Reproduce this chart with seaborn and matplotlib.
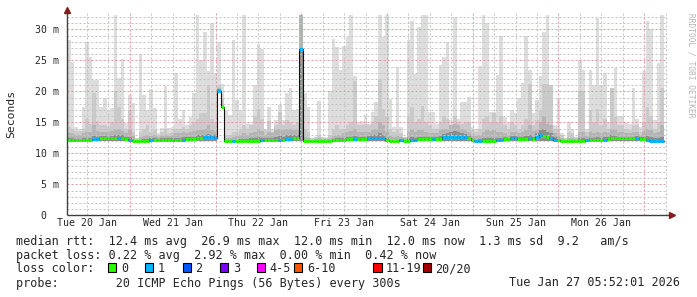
import numpy as np
import pandas as pd
import matplotlib
matplotlib.use("Agg")
import matplotlib.pyplot as plt
import matplotlib.dates as mdates
from matplotlib.patches import Rectangle
import seaborn as sns

# ---------------- data (hourly columns, first column starts 2026-01-20 06:27) -------------
first_column = "2026-01-20 06:27"
window_start = "2026-01-20 06:23"

rtt_max = [
    28.3, 24.8, 14.3, 14.0, 17.5, 28.0, 25.6, 21.9, 21.9, 17.4,
    18.9, 17.0, 17.3, 32.3, 22.1, 25.2, 14.9, 19.4, 18.1, 12.4,
    26.1, 19.4, 17.0, 20.4, 17.3, 13.3, 14.1, 20.9, 14.1, 14.3,
    23.0, 15.5, 17.0, 14.6, 15.8, 19.8, 32.3, 25.1, 29.6, 23.2,
    31.1, 23.0, 28.0, 21.2, 17.0, 16.2, 28.2, 18.6, 17.0, 32.3,
    14.8, 14.8, 21.0, 27.7, 26.9, 14.0, 17.5, 14.0, 15.3, 17.8,
    15.3, 19.7, 20.6, 17.0, 17.1, 32.3, 19.7, 17.5, 12.4, 12.7,
    18.5, 12.7, 12.6, 20.0, 28.4, 27.2, 23.4, 27.3, 28.8, 32.3,
    22.4, 15.0, 15.2, 16.2, 14.8, 16.7, 18.3, 32.3, 28.8, 32.3,
    18.7, 14.3, 24.0, 14.3, 12.7, 28.3, 31.4, 22.8, 30.3, 32.3,
    32.3, 16.7, 16.7, 14.8, 24.3, 25.6, 28.0, 15.4, 32.0, 15.6,
    18.2, 18.2, 19.1, 14.3, 14.0, 24.1, 32.3, 31.1, 16.6, 16.7,
    22.6, 28.9, 15.8, 14.9, 17.0, 16.5, 19.0, 21.4, 28.9, 23.4,
    16.5, 18.6, 22.5, 29.6, 32.3, 21.1, 14.6, 18.8, 13.2, 12.4,
    15.0, 14.0, 12.7, 25.0, 23.5, 14.0, 23.5, 21.0, 31.9, 21.0,
    22.9, 15.1, 19.4, 23.8, 16.0, 16.0, 15.1, 14.7, 20.5, 15.6,
    14.3, 23.2, 31.4, 30.0, 15.3, 24.6, 32.3,
]
rtt_p90 = [
    14.2, 14.0, 13.6, 13.6, 14.0, 15.5, 14.8, 19.8, 15.2, 14.5,
    14.5, 14.2, 15.0, 20.0, 17.5, 15.5, 14.0, 17.0, 13.5, 12.4,
    13.5, 14.0, 14.5, 13.5, 13.8, 13.0, 13.5, 14.0, 13.2, 13.5,
    14.0, 14.0, 14.3, 14.0, 14.5, 15.0, 15.5, 16.5, 16.5, 21.0,
    15.5, 15.0, 21.0, 19.0, 13.0, 13.0, 13.5, 13.5, 13.8, 14.5,
    14.0, 14.5, 16.0, 17.1, 15.5, 13.8, 15.2, 13.5, 14.5, 16.7,
    14.5, 15.3, 15.0, 14.5, 15.0, 32.3, 14.0, 13.5, 12.4, 12.6,
    13.0, 12.6, 12.5, 13.0, 14.0, 14.5, 14.0, 14.0, 14.5, 15.0,
    21.7, 14.5, 14.5, 14.8, 14.5, 15.0, 16.0, 21.8, 17.1, 16.0,
    14.0, 13.5, 14.0, 13.2, 12.6, 16.0, 17.5, 15.0, 15.5, 17.6,
    15.0, 14.5, 14.0, 14.0, 15.0, 16.0, 15.5, 14.5, 16.0, 15.0,
    14.8, 15.0, 15.0, 13.8, 13.5, 14.0, 15.5, 16.0, 15.0, 16.5,
    15.0, 16.0, 14.5, 14.0, 15.0, 14.5, 14.0, 14.5, 15.5, 21.2,
    14.5, 15.4, 17.0, 21.2, 21.2, 21.1, 14.0, 14.0, 13.0, 12.4,
    13.5, 13.2, 12.6, 20.0, 20.0, 13.5, 17.0, 15.0, 17.2, 14.5,
    15.5, 14.0, 20.6, 15.8, 14.5, 14.5, 14.0, 13.8, 14.5, 14.5,
    13.5, 15.0, 17.5, 16.0, 14.0, 15.1, 20.5,
]
rtt_p75 = [
    13.3, 13.2, 13.0, 13.0, 13.3, 13.5, 13.5, 14.5, 13.6, 13.5,
    13.5, 13.4, 13.6, 14.0, 14.0, 13.6, 13.2, 13.8, 12.8, 12.2,
    12.6, 12.8, 13.0, 12.8, 13.0, 12.6, 12.8, 13.0, 12.8, 13.0,
    13.2, 13.2, 13.5, 13.3, 13.5, 13.6, 13.8, 13.8, 14.0, 14.5,
    13.8, 13.5, 20.5, 18.0, 12.4, 12.4, 12.6, 12.8, 13.0, 13.2,
    13.0, 13.2, 13.5, 14.0, 13.6, 13.0, 13.5, 13.3, 13.8, 14.0,
    13.8, 14.0, 14.0, 13.8, 13.8, 32.3, 12.6, 12.4, 12.2, 12.3,
    12.4, 12.3, 12.3, 12.5, 12.8, 13.0, 13.0, 13.2, 13.4, 13.6,
    14.0, 13.5, 13.5, 13.5, 13.5, 13.8, 14.0, 15.0, 14.5, 13.5,
    12.8, 12.6, 12.8, 12.6, 12.4, 13.5, 14.0, 13.5, 13.8, 13.8,
    13.5, 13.2, 13.2, 13.3, 13.8, 14.0, 14.0, 14.5, 14.8, 14.5,
    14.0, 13.8, 13.5, 13.0, 12.8, 13.0, 13.5, 13.8, 13.6, 13.8,
    13.5, 13.5, 13.2, 13.0, 13.5, 13.5, 13.2, 13.4, 13.8, 14.5,
    13.6, 14.0, 15.0, 16.0, 14.8, 14.5, 13.2, 12.8, 12.4, 12.2,
    12.5, 12.5, 12.3, 13.5, 13.5, 12.8, 13.5, 13.2, 13.5, 13.2,
    13.5, 13.2, 14.0, 13.8, 13.4, 13.4, 13.2, 13.2, 13.4, 13.4,
    13.0, 13.5, 14.0, 13.8, 13.2, 13.5, 14.5,
]
rtt_p60 = [
    12.4, 12.4, 12.3, 12.3, 12.4, 12.5, 12.5, 12.8, 12.7, 12.8,
    12.8, 12.7, 12.8, 12.9, 13.0, 12.9, 12.6, 12.6, 12.2, 12.1,
    12.2, 12.3, 12.3, 12.4, 12.4, 12.3, 12.4, 12.4, 12.4, 12.5,
    12.5, 12.5, 12.6, 12.6, 12.7, 12.7, 12.9, 12.9, 13.0, 13.1,
    13.0, 12.9, 20.3, 17.7, 12.1, 12.1, 12.2, 12.2, 12.3, 12.3,
    12.3, 12.4, 12.5, 12.6, 12.5, 12.4, 12.5, 12.5, 12.6, 12.8,
    12.7, 12.9, 12.9, 13.0, 13.0, 26.9, 12.1, 12.1, 12.1, 12.1,
    12.1, 12.1, 12.1, 12.2, 12.3, 12.4, 12.4, 12.5, 12.6, 12.7,
    12.8, 12.6, 12.6, 12.6, 12.8, 12.9, 13.0, 13.2, 13.0, 12.4,
    12.2, 12.2, 12.2, 12.3, 12.1, 12.4, 12.6, 12.5, 12.7, 12.7,
    12.6, 12.6, 12.6, 12.6, 12.8, 13.1, 13.2, 13.5, 13.6, 13.4,
    13.2, 13.1, 12.8, 12.4, 12.2, 12.3, 12.4, 12.5, 12.4, 12.5,
    12.4, 12.4, 12.6, 12.5, 12.8, 12.8, 12.6, 12.7, 12.8, 13.0,
    12.7, 13.3, 13.8, 14.0, 13.5, 13.2, 12.6, 12.3, 12.1, 12.1,
    12.2, 12.2, 12.1, 12.5, 12.4, 12.3, 12.5, 12.5, 12.6, 12.5,
    12.6, 12.7, 12.9, 12.8, 12.7, 12.7, 12.6, 12.6, 12.7, 12.8,
    12.6, 12.7, 12.8, 12.7, 12.4, 12.5, 12.7,
]
rtt_min = [
    11.9, 11.9, 11.9, 11.9, 11.9, 11.9, 11.9, 12.0, 12.0, 12.0,
    12.0, 12.0, 12.0, 12.0, 12.0, 12.0, 12.0, 11.9, 11.9, 11.9,
    11.9, 11.9, 11.9, 11.9, 11.9, 11.9, 11.9, 11.9, 11.9, 11.9,
    11.9, 11.9, 11.9, 12.0, 12.0, 12.0, 12.0, 12.0, 12.0, 12.0,
    12.0, 12.0, 20.0, 17.4, 11.9, 11.9, 11.9, 11.9, 11.9, 11.9,
    11.9, 11.9, 11.9, 11.9, 11.9, 11.9, 11.9, 11.9, 11.9, 11.9,
    12.0, 12.0, 12.0, 12.0, 12.0, 12.0, 11.9, 11.9, 11.9, 11.9,
    11.9, 11.9, 11.9, 11.9, 11.9, 11.9, 11.9, 11.9, 12.0, 12.0,
    12.0, 12.0, 12.0, 12.0, 12.0, 12.0, 12.0, 12.0, 12.0, 11.9,
    11.9, 11.9, 11.9, 11.9, 11.9, 11.9, 11.9, 11.9, 12.0, 12.0,
    12.0, 12.0, 12.0, 12.0, 12.0, 12.0, 12.0, 12.0, 12.0, 12.0,
    12.0, 12.0, 12.0, 11.9, 11.9, 11.9, 11.9, 11.9, 11.9, 11.9,
    11.9, 11.9, 12.0, 12.0, 12.0, 12.0, 12.0, 12.0, 12.0, 12.0,
    12.0, 12.0, 12.0, 12.0, 12.0, 12.0, 12.0, 11.9, 11.9, 11.9,
    11.9, 11.9, 11.9, 11.9, 11.9, 11.9, 11.9, 11.9, 11.9, 11.9,
    12.0, 12.0, 12.0, 12.0, 12.0, 12.0, 12.0, 12.0, 12.0, 12.0,
    12.0, 12.0, 11.9, 11.9, 11.9, 11.9, 11.9,
]
median_rtt = [
    12.1, 12.1, 12.1, 12.1, 12.1, 12.1, 12.1, 12.3, 12.3, 12.4,
    12.4, 12.4, 12.4, 12.4, 12.5, 12.5, 12.3, 12.2, 12.0, 12.0,
    12.0, 12.0, 12.0, 12.1, 12.1, 12.1, 12.1, 12.1, 12.2, 12.2,
    12.2, 12.2, 12.2, 12.3, 12.3, 12.3, 12.5, 12.5, 12.6, 12.6,
    12.6, 12.5, 20.1, 17.4, 12.0, 12.0, 12.0, 12.0, 12.0, 12.0,
    12.0, 12.0, 12.0, 12.0, 12.1, 12.1, 12.1, 12.1, 12.1, 12.2,
    12.2, 12.3, 12.3, 12.5, 12.5, 26.8, 12.0, 12.0, 12.0, 12.0,
    12.0, 12.0, 12.0, 12.0, 12.1, 12.1, 12.1, 12.1, 12.3, 12.3,
    12.3, 12.3, 12.3, 12.3, 12.5, 12.5, 12.5, 12.5, 12.5, 12.1,
    12.0, 12.0, 12.0, 12.1, 12.0, 12.0, 12.1, 12.1, 12.3, 12.3,
    12.3, 12.3, 12.3, 12.3, 12.3, 12.6, 12.6, 12.7, 12.7, 12.7,
    12.7, 12.7, 12.4, 12.1, 12.0, 12.0, 12.0, 12.0, 12.0, 12.0,
    12.1, 12.1, 12.3, 12.3, 12.5, 12.5, 12.3, 12.3, 12.3, 12.4,
    12.3, 12.7, 12.9, 12.8, 12.6, 12.4, 12.2, 12.1, 12.0, 12.0,
    12.0, 12.0, 12.0, 12.0, 12.0, 12.1, 12.1, 12.1, 12.1, 12.1,
    12.2, 12.3, 12.4, 12.4, 12.4, 12.4, 12.4, 12.4, 12.4, 12.5,
    12.3, 12.3, 12.1, 12.0, 12.0, 12.0, 12.0,
]
loss_count = [
    0, 0, 0, 0, 0, 0, 0, 1, 1, 0,
    0, 0, 0, 0, 1, 0, 0, 1, 0, 0,
    0, 0, 0, 1, 0, 0, 0, 0, 0, 0,
    0, 0, 1, 0, 0, 0, 0, 0, 1, 1,
    1, 1, 1, 0, 0, 0, 1, 0, 0, 0,
    0, 0, 0, 0, 1, 0, 0, 0, 0, 1,
    0, 1, 1, 0, 0, 1, 0, 0, 0, 0,
    0, 0, 0, 0, 0, 0, 0, 0, 0, 0,
    1, 0, 0, 0, 1, 1, 1, 1, 1, 0,
    0, 0, 0, 1, 0, 0, 1, 1, 0, 0,
    0, 0, 1, 0, 0, 1, 1, 1, 1, 1,
    1, 1, 0, 0, 1, 1, 0, 0, 0, 0,
    1, 1, 0, 0, 1, 1, 0, 0, 0, 1,
    0, 1, 1, 0, 0, 1, 1, 0, 0, 0,
    0, 0, 0, 0, 0, 1, 0, 0, 0, 0,
    1, 0, 0, 0, 0, 0, 0, 0, 0, 1,
    0, 0, 1, 1, 1, 1, 1,
]

y_ticks = [0, 5, 10, 15, 20, 25, 30]
y_tick_labels = [" 0", " 5 m", "10 m", "15 m", "20 m", "25 m", "30 m"]

loss_names = ["0", "1", "2", "3", "4-5", "6-10", "11-19", "20/20"]
loss_colors = ["#26ff00", "#00b8ff", "#0059ff", "#7e00ff",
               "#ff00ff", "#ff5500", "#ff0000", "#a10000"]
loss_upper = [0, 1, 2, 3, 5, 10, 19, 20]

legend_line1 = "median rtt:  12.4 ms avg  26.9 ms max  12.0 ms min  12.0 ms now  1.3 ms sd  9.2   am/s"
legend_line2 = "packet loss: 0.22 % avg  2.92 % max  0.00 % min  0.42 % now"
legend_line3 = "loss color:"
legend_line4 = "probe:        20 ICMP Echo Pings (56 Bytes) every 300s"
stamp = "Tue Jan 27 05:52:01 2026"

# ---------------- style ----------------
sns.set_style("white")
plt.rcParams["font.family"] = ["DejaVu Sans Mono", "DejaVu Sans"]

W, H = 697, 297
GRID = "#c4c4c4"
MGRID = "#e29a9a"
AXIS = "#404040"
ARROW = "#7f1f1f"

fig = plt.figure(figsize=(W / 100, H / 100), dpi=100)
fig.patch.set_facecolor("white")
ax = fig.add_axes([67 / W, (H - 215.3) / H, 600 / W, 202.7 / H])
ax.set_facecolor("white")

N = len(rtt_max)
edges = mdates.date2num(pd.date_range(first_column, periods=N + 1, freq="h"))


def ext(a):
    a = np.asarray(a, dtype=float)
    return np.append(a, a[-1])


# smoke layers (outer = lightest, inner = darkest)
for top, col in [(rtt_max, "#dddddd"), (rtt_p90, "#cacaca"),
                 (rtt_p75, "#b4b4b4"), (rtt_p60, "#8c8c8c")]:
    ax.fill_between(edges, ext(rtt_min), ext(top), step="post", color=col,
                    linewidth=0, antialiased=False, zorder=1)

# limits
x0 = mdates.date2num(pd.Timestamp(window_start))
ax.set_xlim(x0, x0 + 7)
ax.set_ylim(0, 32.7)

# grid (drawn above the smoke like rrdtool)
for t in pd.date_range("2026-01-20 12:00", "2026-01-27 06:00", freq="6h"):
    ax.axvline(mdates.date2num(t), color=MGRID if t.hour == 0 else GRID,
               lw=0.72, ls=(0, (2, 2)), zorder=2)
for v in range(1, 33):
    ax.axhline(v, color=MGRID if v % 5 == 0 else GRID, lw=0.72,
               ls=(0, (2, 2)), zorder=2)

# thin black median line
df = pd.DataFrame({"t": edges, "rtt": ext(median_rtt)})
sns.lineplot(data=df, x="t", y="rtt", drawstyle="steps-post", color="#101010",
             linewidth=0.8, ax=ax, zorder=3)


def loss_color(c):
    for up, col in zip(loss_upper, loss_colors):
        if c <= up:
            return col
    return loss_colors[-1]


ax.hlines(median_rtt, edges[:-1], edges[1:],
          colors=[loss_color(c) for c in loss_count],
          linewidth=2.2, capstyle="butt", zorder=4)

ax.set_xlabel("")
ax.set_ylabel("")

# axes lines + arrows
for s in ax.spines.values():
    s.set_visible(False)
ax.plot([0, 0], [0, 1.01], transform=ax.transAxes, color=AXIS, lw=1,
        clip_on=False, zorder=6, solid_capstyle="butt")
ax.plot([0, 1.006], [0, 0], transform=ax.transAxes, color=AXIS, lw=1,
        clip_on=False, zorder=6, solid_capstyle="butt")
ax.plot([0], [1.012], marker="^", ms=4, color=ARROW, transform=ax.transAxes,
        clip_on=False, zorder=7)
ax.plot([1.008], [0], marker=">", ms=4, color=ARROW, transform=ax.transAxes,
        clip_on=False, zorder=7)

# ticks
ax.set_yticks(y_ticks)
ax.set_yticklabels(y_tick_labels, ha="left")
ax.tick_params(axis="y", direction="out", length=2, width=0.8, color=AXIS,
               pad=(31 - 2) * 0.72, labelsize=7.1)
ax.xaxis.set_major_locator(mdates.HourLocator(byhour=[12]))
ax.xaxis.set_major_formatter(mdates.DateFormatter("%a %d %b"))
ax.xaxis.set_minor_locator(mdates.DayLocator())
ax.tick_params(axis="x", which="major", length=0, pad=2.0, labelsize=7.1)
ax.tick_params(axis="x", which="minor", length=2, width=0.8, color=ARROW,
               direction="out")
ax.grid(False)

# texts
fig.text(10.8 / W, 1 - 114 / H, "Seconds", rotation=90, ha="center",
         va="center", fontsize=8.2)
fig.text(691 / W, 1 - 65 / H, "RRDTOOL / TOBI OETIKER", rotation=270,
         ha="center", va="center", fontsize=5.7, color="#b4b4b4")

LF = 8.5
fig.text(16 / W, 1 - 241 / H, legend_line1, ha="left", va="center", fontsize=LF)
fig.text(16 / W, 1 - 255 / H, legend_line2, ha="left", va="center", fontsize=LF)
fig.text(16 / W, 1 - 268.5 / H, legend_line3, ha="left", va="center", fontsize=LF)
fig.text(16 / W, 1 - 283 / H, legend_line4, ha="left", va="center", fontsize=LF)
fig.text(680 / W, 1 - 283 / H, stamp, ha="right", va="center", fontsize=LF)

box_x = [108.3, 145, 182.7, 220, 256.7, 294, 373.3, 422.7]
for bx, name, col in zip(box_x, loss_names, loss_colors):
    fig.patches.append(Rectangle((bx / W, 1 - 271.7 / H), 8.2 / W, 8.7 / H,
                                 transform=fig.transFigure, facecolor=col,
                                 edgecolor="black", linewidth=0.8))
    fig.text((bx + 12.8) / W, 1 - 268.5 / H, name, ha="left", va="center",
             fontsize=LF)

fig.savefig("out.png", dpi=100, facecolor="white")
